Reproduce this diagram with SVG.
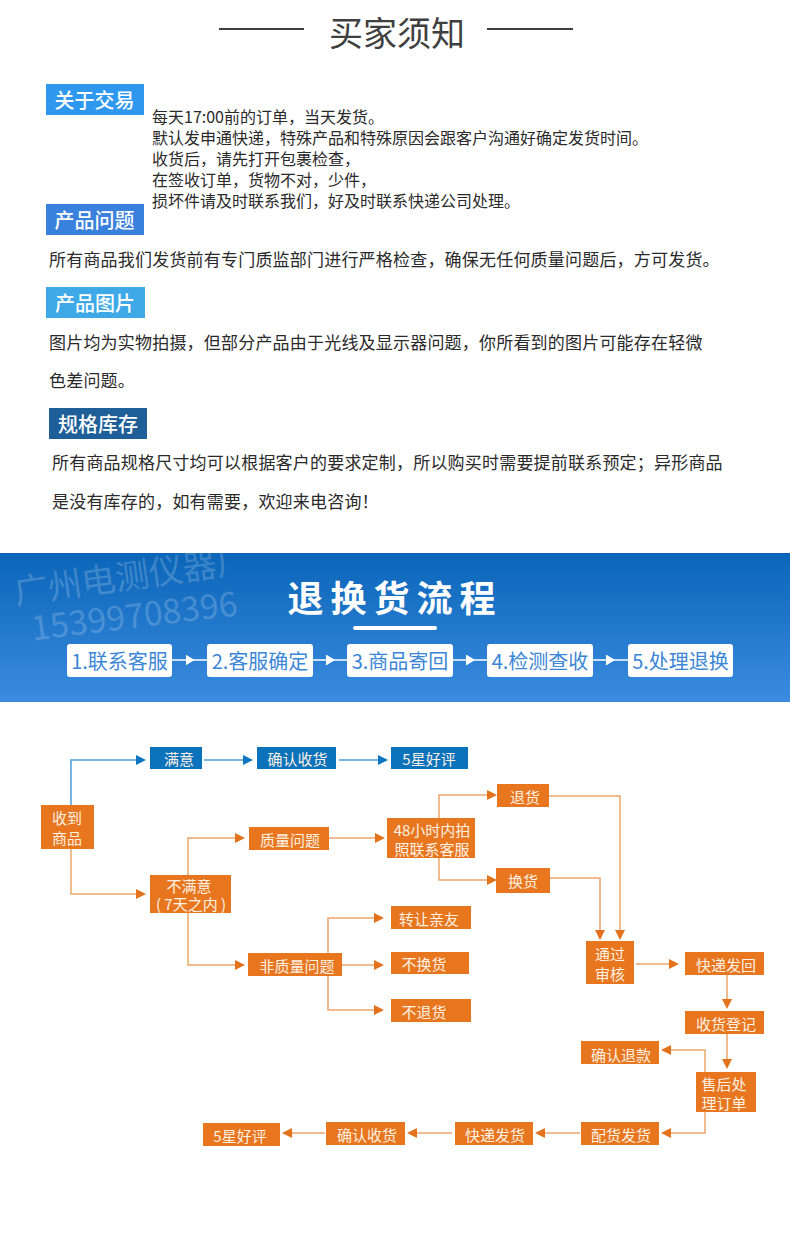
<svg xmlns="http://www.w3.org/2000/svg" width="790" height="1239" viewBox="0 0 790 1239">
<style>
text{font-family:"Noto Sans CJK SC","Liberation Sans",sans-serif;dominant-baseline:central}
.m{text-anchor:middle}
.title{font-size:34px;fill:#3f3f3f}
.rule{stroke:#3f3f3f;stroke-width:2;fill:none}
.tag{font-size:20px;fill:#fff;font-weight:500;text-anchor:middle}
.p16{font-size:16px;fill:#2a2a2a}
.p17{font-size:17px;fill:#2a2a2a;letter-spacing:.2px}
.btn{fill:#fff}
.btnt{font-size:20px;fill:#3b86d6;text-anchor:middle}
.wm{font-size:34px;fill:#fff;fill-opacity:.2}
.o{fill:#e8761f}
.b{fill:#0b72bb}
.t{font-size:15px;fill:#fdf1e4;text-anchor:middle}
.co{fill:none;stroke:#eba56b;stroke-width:1.5}
.cb{fill:none;stroke:#4a9fe0;stroke-width:1.5}
.cw{fill:none;stroke:#fff;stroke-width:1.5}
</style>
<defs>
<linearGradient id="bg" x1="0" y1="0" x2="0" y2="1"><stop offset="0" stop-color="#0a65b8"/><stop offset="1" stop-color="#3b8ce0"/></linearGradient>
<marker id="ao" markerUnits="userSpaceOnUse" markerWidth="10" markerHeight="10" refX="0" refY="5" orient="auto"><path d="M0 0L10 5L0 10Z" fill="#e2721c"/></marker>
<marker id="ab" markerUnits="userSpaceOnUse" markerWidth="10" markerHeight="10" refX="0" refY="5" orient="auto"><path d="M0 0L10 5L0 10Z" fill="#0d76c2"/></marker>
<marker id="aw" markerUnits="userSpaceOnUse" markerWidth="9" markerHeight="11" refX="0" refY="5.5" orient="auto"><path d="M0 0L9 5.5L0 11Z" fill="#fff"/></marker>
</defs>
<rect width="790" height="1239" fill="#fff"/>

<g id="heading">
<path class="rule" d="M219 29H304M487 29H573"/>
<text class="title m" x="397" y="31">买家须知</text>
</g>

<g id="tag-trade"><rect x="46" y="84" width="98" height="31" fill="#2e97ee"/><text class="tag" x="94.500" y="99">关于交易</text></g>
<g id="para-trade">
<text class="p16" x="152" y="116">每天17:00前的订单，当天发货。</text>
<text class="p16" x="152" y="137">默认发申通快递，特殊产品和特殊原因会跟客户沟通好确定发货时间。</text>
<text class="p16" x="152" y="158">收货后，请先打开包裹检查，</text>
<text class="p16" x="152" y="179">在签收订单，货物不对，少件，</text>
<text class="p16" x="152" y="200">损坏件请及时联系我们，好及时联系快递公司处理。</text>
</g>
<g id="tag-quality"><rect x="46" y="204" width="98" height="31" fill="#3a80dd"/><text class="tag" x="94.500" y="219">产品问题</text></g>
<g id="para-quality"><text class="p17" x="49" y="258">所有商品我们发货前有专门质监部门进行严格检查，确保无任何质量问题后，方可发货。</text></g>
<g id="tag-image"><rect x="46" y="287" width="99" height="31" fill="#3fa9e8"/><text class="tag" x="95" y="302">产品图片</text></g>
<g id="para-image">
<text class="p17" x="49" y="341">图片均为实物拍摄，但部分产品由于光线及显示器问题，你所看到的图片可能存在轻微</text>
<text class="p17" x="49" y="379">色差问题。</text>
</g>
<g id="tag-stock"><rect x="49" y="408" width="98" height="31" fill="#1f5f99"/><text class="tag" x="98" y="423">规格库存</text></g>
<g id="para-stock">
<text class="p17" x="52" y="461">所有商品规格尺寸均可以根据客户的要求定制，所以购买时需要提前联系预定；异形商品</text>
<text class="p17" x="52" y="500">是没有库存的，如有需要，欢迎来电咨询！</text>
</g>

<g id="banner">
<rect x="0" y="553" width="790" height="149" fill="url(#bg)"/>
<text class="wm" x="14" y="590" transform="rotate(-8 14 590)">广州电测仪器厂</text>
<text class="wm" x="31" y="626" transform="rotate(-7 31 626)" font-family="Liberation Sans">15399708396</text>
<text class="m" x="395" y="596" font-size="36" font-weight="700" fill="#fff" letter-spacing="7">退换货流程</text>
<rect x="353" y="626" width="84" height="4" rx="2" fill="#fff"/>
</g>

<g id="connectors">
<path class="cw" marker-mid="url(#aw)" d="M172 660H185.500H207"/>
<path class="cw" marker-mid="url(#aw)" d="M313 660H326H347"/>
<path class="cw" marker-mid="url(#aw)" d="M453 660H466H487"/>
<path class="cw" marker-mid="url(#aw)" d="M593 660H606H628"/>

<path class="cb" marker-end="url(#ab)" d="M71 805V760H136"/>
<path class="cb" marker-end="url(#ab)" d="M204 760H243"/>
<path class="cb" marker-end="url(#ab)" d="M339 760H378"/>

<path class="co" marker-end="url(#ao)" d="M71 849V894H136"/>
<path class="co" marker-end="url(#ao)" d="M188 875V838H235"/>
<path class="co" marker-end="url(#ao)" d="M188 913V965H235"/>
<path class="co" marker-end="url(#ao)" d="M329 838H375"/>
<path class="co" marker-end="url(#ao)" d="M439 818V795H487"/>
<path class="co" marker-end="url(#ao)" d="M439 858V880H487"/>
<path class="co" marker-end="url(#ao)" d="M328 953V918H374"/>
<path class="co" marker-end="url(#ao)" d="M342 965H374"/>
<path class="co" marker-end="url(#ao)" d="M328 976V1010H374"/>
<path class="co" marker-end="url(#ao)" d="M549 796H620V930"/>
<path class="co" marker-end="url(#ao)" d="M550 878H600V930"/>
<path class="co" marker-end="url(#ao)" d="M636 964H669"/>
<path class="co" marker-end="url(#ao)" d="M727 975V999"/>
<path class="co" marker-end="url(#ao)" d="M727 1034V1059"/>
<path class="co" marker-end="url(#ao)" d="M705 1072V1050H671"/>
<path class="co" marker-end="url(#ao)" d="M705 1112V1133H671"/>
<path class="co" marker-end="url(#ao)" d="M580 1133H545"/>
<path class="co" marker-end="url(#ao)" d="M452 1133H417"/>
<path class="co" marker-end="url(#ao)" d="M325 1133H292"/>
</g>

<g id="step-1"><rect class="btn" x="67" y="644" width="105" height="33" rx="3"/><text class="btnt" x="119.500" y="660.500">1.联系客服</text></g>
<g id="step-2"><rect class="btn" x="207" y="644" width="106" height="33" rx="3"/><text class="btnt" x="260" y="660.500">2.客服确定</text></g>
<g id="step-3"><rect class="btn" x="347" y="644" width="106" height="33" rx="3"/><text class="btnt" x="400" y="660.500">3.商品寄回</text></g>
<g id="step-4"><rect class="btn" x="487" y="644" width="106" height="33" rx="3"/><text class="btnt" x="540" y="660.500">4.检测查收</text></g>
<g id="step-5"><rect class="btn" x="628" y="644" width="105" height="33" rx="3"/><text class="btnt" x="680.500" y="660.500">5.处理退换</text></g>

<g id="n-satisfied"><rect class="b" x="150" y="747" width="52" height="22"/><text class="t" x="179" y="758">满意</text></g>
<g id="n-confirm-top"><rect class="b" x="257" y="747" width="79" height="22"/><text class="t" x="297.500" y="758">确认收货</text></g>
<g id="n-star-top"><rect class="b" x="391" y="747" width="77" height="22"/><text class="t" x="429" y="758">5星好评</text></g>
<g id="n-received"><rect class="o" x="41" y="805" width="53" height="44"/><text class="t" x="67" y="817">收到</text><text class="t" x="67" y="837">商品</text></g>
<g id="n-unsatisfied"><rect class="o" x="150" y="875" width="81" height="38"/><text class="t" x="189" y="885">不满意</text><text class="t" x="191" y="903">( 7天之内 )</text></g>
<g id="n-quality"><rect class="o" x="249" y="827" width="80" height="23"/><text class="t" x="290" y="839">质量问题</text></g>
<g id="n-48h"><rect class="o" x="387" y="818" width="88" height="40"/><text class="t" x="432" y="829">48小时内拍</text><text class="t" x="432" y="848">照联系客服</text></g>
<g id="n-return"><rect class="o" x="497" y="784" width="52" height="23"/><text class="t" x="525" y="796">退货</text></g>
<g id="n-exchange"><rect class="o" x="496" y="868" width="54" height="25"/><text class="t" x="523" y="880">换货</text></g>
<g id="n-nonquality"><rect class="o" x="248" y="953" width="94" height="23"/><text class="t" x="297" y="965">非质量问题</text></g>
<g id="n-transfer"><rect class="o" x="391" y="906" width="80" height="23"/><text class="t" x="429" y="918">转让亲友</text></g>
<g id="n-noexchange"><rect class="o" x="391" y="952" width="78" height="22"/><text class="t" x="424" y="963">不换货</text></g>
<g id="n-noreturn"><rect class="o" x="391" y="999" width="80" height="23"/><text class="t" x="424" y="1011">不退货</text></g>
<g id="n-review"><rect class="o" x="586" y="941" width="48" height="43"/><text class="t" x="610" y="953">通过</text><text class="t" x="610" y="973">审核</text></g>
<g id="n-sendback"><rect class="o" x="685" y="952" width="79" height="23"/><text class="t" x="726" y="964">快递发回</text></g>
<g id="n-register"><rect class="o" x="685" y="1011" width="79" height="23"/><text class="t" x="726" y="1023">收货登记</text></g>
<g id="n-refund"><rect class="o" x="581" y="1041" width="78" height="23"/><text class="t" x="621" y="1054">确认退款</text></g>
<g id="n-aftersale"><rect class="o" x="696" y="1072" width="60" height="40"/><text class="t" x="724" y="1083">售后处</text><text class="t" x="724" y="1102">理订单</text></g>
<g id="n-pick"><rect class="o" x="581" y="1122" width="78" height="23"/><text class="t" x="621" y="1134">配货发货</text></g>
<g id="n-ship"><rect class="o" x="455" y="1122" width="78" height="23"/><text class="t" x="495" y="1134">快递发货</text></g>
<g id="n-confirm-bottom"><rect class="o" x="326" y="1122" width="79" height="23"/><text class="t" x="367" y="1134">确认收货</text></g>
<g id="n-star-bottom"><rect class="o" x="203" y="1123" width="77" height="23"/><text class="t" x="240" y="1135">5星好评</text></g>
</svg>
